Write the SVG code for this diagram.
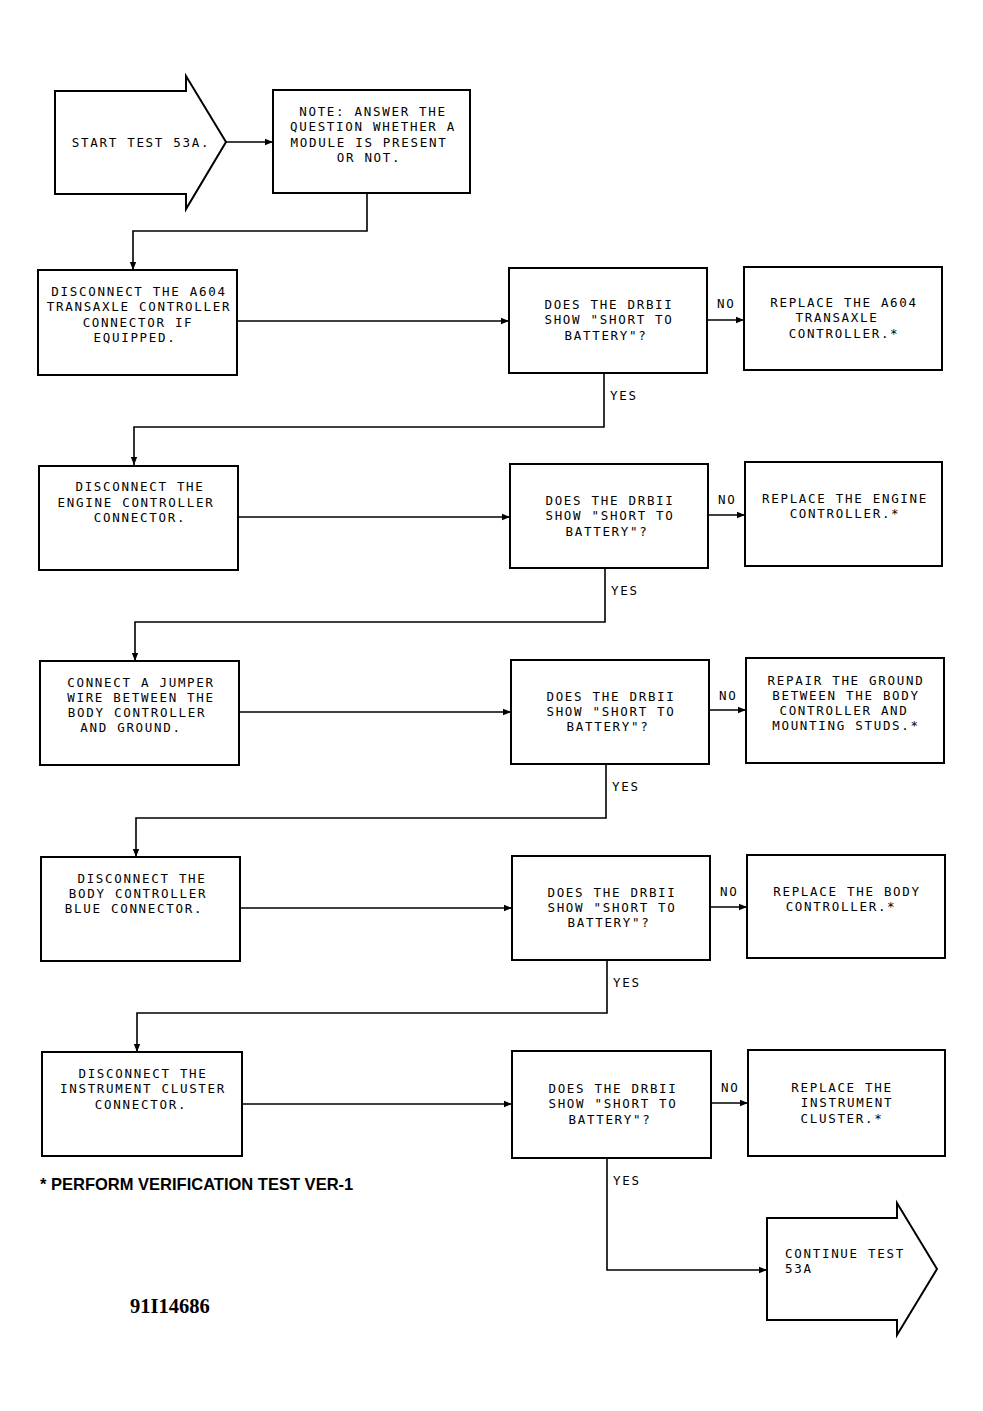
<svg xmlns="http://www.w3.org/2000/svg" width="983" height="1411" viewBox="0 0 983 1411">
<defs>
<marker id="ah" viewBox="0 0 10 10" refX="10" refY="5" markerWidth="8" markerHeight="8" markerUnits="userSpaceOnUse" orient="auto">
<path d="M0,1 L10,5 L0,9 Z" fill="#000"/>
</marker>
</defs>
<style>
.b{fill:#fff;stroke:#000;stroke-width:2}
.c{fill:none;stroke:#000;stroke-width:1.6}
.t{font-family:"DejaVu Sans Mono","Liberation Mono",monospace;font-size:12.5px;letter-spacing:1.7px;fill:#000;text-anchor:middle}
.l{font-family:"DejaVu Sans Mono","Liberation Mono",monospace;font-size:12.5px;letter-spacing:1.7px;fill:#000}
</style>
<rect width="983" height="1411" fill="#fff"/>
<g id="connectors">
<path class="c" d="M226,142 H273" marker-end="url(#ah)"/>
<path class="c" d="M367,193 V231 H133 V270" marker-end="url(#ah)"/>
<path class="c" d="M237,321 H509" marker-end="url(#ah)"/>
<path class="c" d="M707,320 H744" marker-end="url(#ah)"/>
<path class="c" d="M604,373 V427 H134 V465" marker-end="url(#ah)"/>
<path class="c" d="M238,517 H510" marker-end="url(#ah)"/>
<path class="c" d="M708,515 H745" marker-end="url(#ah)"/>
<path class="c" d="M605,568 V622 H135 V661" marker-end="url(#ah)"/>
<path class="c" d="M239,712 H511" marker-end="url(#ah)"/>
<path class="c" d="M709,710 H746" marker-end="url(#ah)"/>
<path class="c" d="M606,764 V818 H136 V857" marker-end="url(#ah)"/>
<path class="c" d="M240,908 H512" marker-end="url(#ah)"/>
<path class="c" d="M710,907 H747" marker-end="url(#ah)"/>
<path class="c" d="M607,960 V1013 H137 V1052" marker-end="url(#ah)"/>
<path class="c" d="M242,1104 H512" marker-end="url(#ah)"/>
<path class="c" d="M711,1103 H748" marker-end="url(#ah)"/>
<path class="c" d="M607,1158 V1270 H767" marker-end="url(#ah)"/>
<text class="l" x="717" y="307.5">NO</text>
<text class="l" x="610" y="399.5">YES</text>
<text class="l" x="718" y="503.5">NO</text>
<text class="l" x="611" y="594.5">YES</text>
<text class="l" x="719" y="699.5">NO</text>
<text class="l" x="612" y="790.5">YES</text>
<text class="l" x="720" y="895.5">NO</text>
<text class="l" x="613" y="986.5">YES</text>
<text class="l" x="721" y="1091.5">NO</text>
<text class="l" x="613" y="1184.5">YES</text>
</g>
<g id="start">
<polygon class="b" points="55,91 186,91 186,76 226,142 186,209 186,194 55,194"/>
<text class="t" x="141" y="146.5">START TEST 53A.</text>
</g>
<g id="note">
<rect class="b" x="273" y="90" width="197" height="103"/>
<text class="t" x="373" y="115.5">NOTE: ANSWER THE</text>
<text class="t" x="373" y="131">QUESTION WHETHER A</text>
<text class="t" x="369" y="146.5">MODULE IS PRESENT</text>
<text class="t" x="369" y="162">OR NOT.</text>
</g>
<g id="boxA">
<rect class="b" x="38" y="270" width="199" height="105"/>
<text class="t" x="139" y="295.5">DISCONNECT THE A604</text>
<text class="t" x="139" y="311">TRANSAXLE CONTROLLER</text>
<text class="t" x="138" y="326.5">CONNECTOR IF</text>
<text class="t" x="135" y="342">EQUIPPED.</text>
</g>
<g id="dec1">
<rect class="b" x="509" y="268" width="198" height="105"/>
<text class="t" x="609" y="308.5">DOES THE DRBII</text>
<text class="t" x="609" y="324">SHOW "SHORT TO</text>
<text class="t" x="606" y="339.5">BATTERY"?</text>
</g>
<g id="res1">
<rect class="b" x="744" y="267" width="198" height="103"/>
<text class="t" x="844" y="306.5">REPLACE THE A604</text>
<text class="t" x="837" y="322">TRANSAXLE</text>
<text class="t" x="844" y="337.5">CONTROLLER.*</text>
</g>
<g id="boxB">
<rect class="b" x="39" y="466" width="199" height="104"/>
<text class="t" x="140" y="491">DISCONNECT THE</text>
<text class="t" x="136" y="506.5">ENGINE CONTROLLER</text>
<text class="t" x="140" y="522">CONNECTOR.</text>
</g>
<g id="dec2">
<rect class="b" x="510" y="464" width="198" height="104"/>
<text class="t" x="610" y="504.5">DOES THE DRBII</text>
<text class="t" x="610" y="520">SHOW "SHORT TO</text>
<text class="t" x="607" y="535.5">BATTERY"?</text>
</g>
<g id="res2">
<rect class="b" x="745" y="462" width="197" height="104"/>
<text class="t" x="845" y="502.5">REPLACE THE ENGINE</text>
<text class="t" x="845" y="518">CONTROLLER.*</text>
</g>
<g id="boxC">
<rect class="b" x="40" y="661" width="199" height="104"/>
<text class="t" x="141" y="686.5">CONNECT A JUMPER</text>
<text class="t" x="141" y="702">WIRE BETWEEN THE</text>
<text class="t" x="137" y="717">BODY CONTROLLER</text>
<text class="t" x="131" y="732">AND GROUND.</text>
</g>
<g id="dec3">
<rect class="b" x="511" y="660" width="198" height="104"/>
<text class="t" x="611" y="700.5">DOES THE DRBII</text>
<text class="t" x="611" y="716">SHOW "SHORT TO</text>
<text class="t" x="608" y="731">BATTERY"?</text>
</g>
<g id="res3">
<rect class="b" x="746" y="658" width="198" height="105"/>
<text class="t" x="846" y="684.5">REPAIR THE GROUND</text>
<text class="t" x="846" y="699.5">BETWEEN THE BODY</text>
<text class="t" x="844" y="714.5">CONTROLLER AND</text>
<text class="t" x="846" y="729.5">MOUNTING STUDS.*</text>
</g>
<g id="boxD">
<rect class="b" x="41" y="857" width="199" height="104"/>
<text class="t" x="142" y="882.5">DISCONNECT THE</text>
<text class="t" x="138" y="897.5">BODY CONTROLLER</text>
<text class="t" x="134" y="912.5">BLUE CONNECTOR.</text>
</g>
<g id="dec4">
<rect class="b" x="512" y="856" width="198" height="104"/>
<text class="t" x="612" y="896.5">DOES THE DRBII</text>
<text class="t" x="612" y="911.5">SHOW "SHORT TO</text>
<text class="t" x="609" y="926.5">BATTERY"?</text>
</g>
<g id="res4">
<rect class="b" x="747" y="855" width="198" height="103"/>
<text class="t" x="847" y="895.5">REPLACE THE BODY</text>
<text class="t" x="841" y="910.5">CONTROLLER.*</text>
</g>
<g id="boxE">
<rect class="b" x="42" y="1052" width="200" height="104"/>
<text class="t" x="143" y="1077.5">DISCONNECT THE</text>
<text class="t" x="143" y="1093">INSTRUMENT CLUSTER</text>
<text class="t" x="141" y="1108.5">CONNECTOR.</text>
</g>
<g id="dec5">
<rect class="b" x="512" y="1051" width="199" height="107"/>
<text class="t" x="613" y="1092.5">DOES THE DRBII</text>
<text class="t" x="613" y="1108">SHOW "SHORT TO</text>
<text class="t" x="610" y="1123.5">BATTERY"?</text>
</g>
<g id="res5">
<rect class="b" x="748" y="1050" width="197" height="106"/>
<text class="t" x="842" y="1091.5">REPLACE THE</text>
<text class="t" x="847" y="1107">INSTRUMENT</text>
<text class="t" x="842" y="1122.5">CLUSTER.*</text>
</g>
<g id="continue">
<polygon class="b" points="767,1218 897,1218 897,1203 937,1269 897,1335 897,1320 767,1320"/>
<text class="l" x="785" y="1257.5">CONTINUE TEST</text>
<text class="l" x="785" y="1273">53A</text>
</g>
<g id="notes">
<text x="40" y="1190" style="font-family:'Liberation Sans',Arial,sans-serif;font-size:16.5px;font-weight:bold;fill:#000">* PERFORM VERIFICATION TEST VER-1</text>
<text x="130" y="1313" style="font-family:'Liberation Serif','Times New Roman',serif;font-size:20.5px;font-weight:bold;fill:#000">91I14686</text>
</g>
</svg>
